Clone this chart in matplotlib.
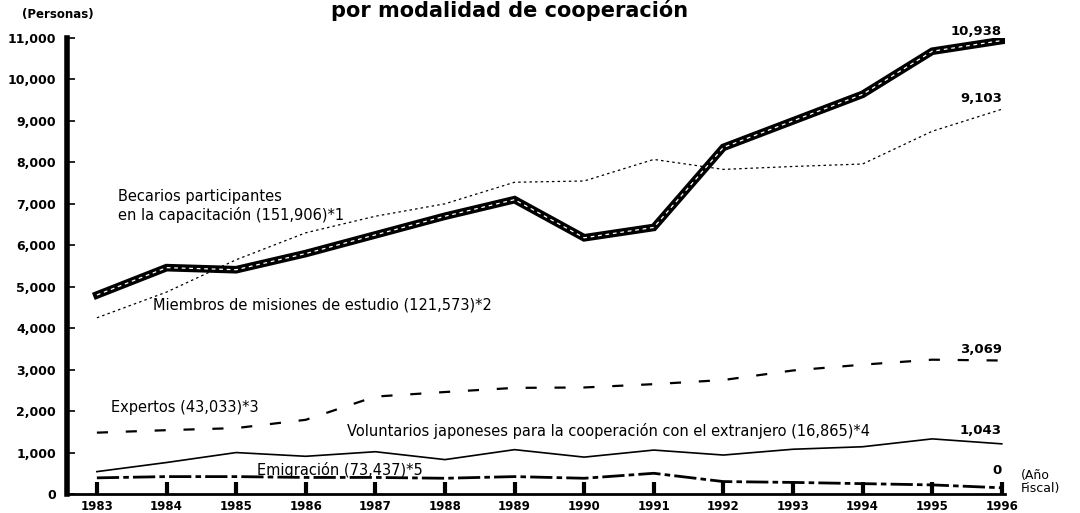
import matplotlib
matplotlib.use("Agg")
import matplotlib.pyplot as plt

# data
years = list(range(1983, 1997))
becarios = [4800, 5460, 5410, 5800, 6250, 6700, 7100, 6180, 6430, 8360, 9000, 9640, 10680, 10938]
miembros = [4250, 4870, 5650, 6300, 6700, 7000, 7520, 7550, 8070, 7830, 7900, 7960, 8750, 9280]
expertos = [1480, 1540, 1590, 1790, 2350, 2460, 2560, 2570, 2650, 2750, 2980, 3120, 3240, 3220]
voluntarios = [540, 760, 1000, 910, 1020, 830, 1070, 890, 1060, 940, 1080, 1140, 1330, 1210]
emigracion = [390, 420, 420, 400, 400, 380, 420, 380, 500, 300, 280, 250, 220, 150]

end_labels = ["10,938", "9,103", "3,069", "1,043", "0"]
yticks = [0, 1000, 2000, 3000, 4000, 5000, 6000, 7000, 8000, 9000, 10000, 11000]

fig = plt.figure(figsize=(10.8, 5.13), dpi=100)
ax = fig.add_axes([0.062, 0.037, 0.8685, 0.889])

# Becarios: thick black with white dashes inside
ax.plot(years, becarios, color="black", lw=5.5, solid_joinstyle="miter", zorder=5)
ax.plot(years, becarios, color="white", lw=0.9, ls=(0, (3, 3)), zorder=6)
ax.plot(years, miembros, color="black", lw=0.9, ls=(0, (2, 2.5)))
ax.plot(years, expertos, color="black", lw=1.6, ls=(0, (5, 8)))
ax.plot(years, voluntarios, color="black", lw=1.2)
ax.plot(years, emigracion, color="black", lw=2.0, ls=(0, (8, 1.5, 2, 1.5)))

ax.set_xlim(1983 - 0.43, 1996 + 0.045)
ax.set_ylim(0, 11000)

for s in ["top", "right"]:
    ax.spines[s].set_visible(False)
ax.spines["left"].set_linewidth(4)
ax.spines["bottom"].set_linewidth(2)

ax.set_yticks(yticks)
ax.set_yticklabels([f"{v:,}" for v in yticks], fontsize=9, weight="bold")
ax.set_xticks(years)
ax.set_xticklabels([str(y) for y in years], fontsize=8.5, weight="bold")
ax.tick_params(axis="y", direction="in", length=6, width=1.2, pad=8)
ax.tick_params(axis="x", direction="in", length=9, width=3, pad=4)

fs = 10.5
ax.text(1983.3, 6950, "Becarios participantes\nen la capacitación (151,906)*1",
        fontsize=fs, va="center", linespacing=1.2)
ax.text(1983.8, 4550, "Miembros de misiones de estudio (121,573)*2", fontsize=fs, va="center")
ax.text(1983.2, 2080, "Expertos (43,033)*3", fontsize=fs, va="center")
ax.text(1986.6, 1520, "Voluntarios japoneses para la cooperación con el extranjero (16,865)*4",
        fontsize=fs, va="center")
ax.text(1985.3, 570, "Emigración (73,437)*5", fontsize=fs, va="center")

label_y = [11150, 9540, 3480, 1530, 570]
for lab, yv in zip(end_labels, label_y):
    ax.text(1996.0, yv, lab, fontsize=9.5, weight="bold", ha="right", va="center")

fig.text(0.945, 0.06, "(Año\nFiscal)", fontsize=9, ha="left", va="center", linespacing=1.0)
fig.text(0.02, 0.972, "(Personas)", fontsize=8.5, weight="bold", ha="left", va="center")
fig.text(0.472, 0.966, "por modalidad de cooperación", fontsize=15, weight="bold",
         ha="center", va="baseline")

fig.savefig("out.png", dpi=100)
